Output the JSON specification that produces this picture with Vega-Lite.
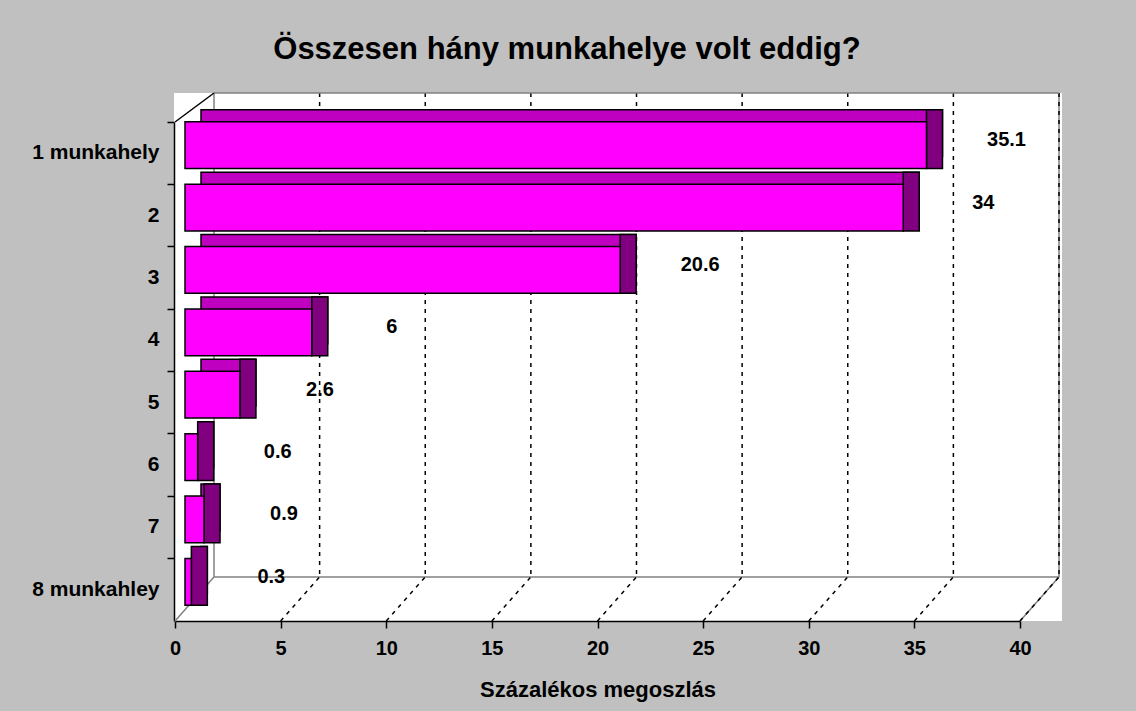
{
  "$schema": "https://vega.github.io/schema/vega-lite/v6.json",
  "autosize": {"type": "none"},
  "width": 888,
  "height": 528,
  "padding": {"left": 174, "top": 93, "right": 74, "bottom": 90},
  "background": "#c0c0c0",
  "config": {"view": {"fill": "white", "stroke": null}, "font": "Liberation Sans"},
  "title": {
    "text": "Összesen hány munkahelye volt eddig?",
    "fontSize": 31, "fontWeight": "bold", "font": "Liberation Sans", "color": "black",
    "anchor": "middle", "frame": "group", "dx": -51, "offset": 2, "baseline": "alphabetic"
  },
  "datasets": {
    "bars": [
      {"kategoria": "1 munkahely", "szazalek": 35.1},
      {"kategoria": "2", "szazalek": 34},
      {"kategoria": "3", "szazalek": 20.6},
      {"kategoria": "4", "szazalek": 6},
      {"kategoria": "5", "szazalek": 2.6},
      {"kategoria": "6", "szazalek": 0.6},
      {"kategoria": "7", "szazalek": 0.9},
      {"kategoria": "8 munkahley", "szazalek": 0.3}
    ],
    "grid": [{"ertek": 5}, {"ertek": 10}, {"ertek": 15}, {"ertek": 20}, {"ertek": 25}, {"ertek": 30}, {"ertek": 35}, {"ertek": 40}],
    "edge": [{"ertek": 0}, {"ertek": 40}],
    "one": [{"n": 1}]
  },
  "resolve": {"axis": {"x": "independent", "y": "independent"}},
  "layer": [
    {
      "data": {"name": "edge"},
      "mark": {"type": "rule", "color": "#808080", "strokeWidth": 1.5, "xOffset": 39, "yOffset": -29, "y2Offset": -44},
      "encoding": {
        "x": {"field": "ertek", "type": "quantitative", "axis": null},
        "y": {"datum": "1 munkahely", "type": "nominal", "bandPosition": 0, "axis": null},
        "y2": {"datum": "8 munkahley", "bandPosition": 1}
      }
    },
    {
      "data": {"name": "grid"},
      "mark": {"type": "rule", "color": "black", "strokeWidth": 1.5, "strokeDash": [4, 5], "xOffset": 39, "yOffset": -29, "y2Offset": -44},
      "encoding": {
        "x": {"field": "ertek", "type": "quantitative", "axis": null},
        "y": {"datum": "1 munkahely", "type": "nominal", "bandPosition": 0, "axis": null},
        "y2": {"datum": "8 munkahley", "bandPosition": 1}
      }
    },
    {
      "data": {"name": "one"},
      "mark": {"type": "rule", "color": "#808080", "strokeWidth": 1.5, "xOffset": 39, "x2Offset": 39, "yOffset": -29},
      "encoding": {
        "x": {"datum": 0, "type": "quantitative", "axis": null},
        "x2": {"datum": 40},
        "y": {"datum": "1 munkahely", "type": "nominal", "bandPosition": 0, "axis": null}
      }
    },
    {
      "data": {"name": "one"},
      "mark": {"type": "rule", "color": "#808080", "strokeWidth": 1.5, "xOffset": 39, "x2Offset": 39, "yOffset": -44},
      "encoding": {
        "x": {"datum": 0, "type": "quantitative", "axis": null},
        "x2": {"datum": 40},
        "y": {"datum": "8 munkahley", "type": "nominal", "bandPosition": 1, "axis": null}
      }
    },
    {
      "data": {"name": "edge"},
      "mark": {"type": "rule", "color": "#808080", "strokeWidth": 1.5, "x2Offset": 39, "y2Offset": -44},
      "encoding": {
        "x": {"field": "ertek", "type": "quantitative", "axis": null},
        "x2": {"field": "ertek"},
        "y": {"datum": "8 munkahley", "type": "nominal", "bandPosition": 1, "axis": null},
        "y2": {"datum": "8 munkahley", "bandPosition": 1}
      }
    },
    {
      "data": {"name": "grid"},
      "mark": {"type": "rule", "color": "black", "strokeWidth": 1.5, "strokeDash": [4, 5], "x2Offset": 39, "y2Offset": -44},
      "encoding": {
        "x": {"field": "ertek", "type": "quantitative", "axis": null},
        "x2": {"field": "ertek"},
        "y": {"datum": "8 munkahley", "type": "nominal", "bandPosition": 1, "axis": null},
        "y2": {"datum": "8 munkahley", "bandPosition": 1}
      }
    },
    {
      "data": {"name": "one"},
      "mark": {"type": "rule", "color": "black", "strokeWidth": 1.5, "x2Offset": 39, "y2Offset": -29},
      "encoding": {
        "x": {"datum": 0, "type": "quantitative", "axis": null},
        "x2": {"datum": 0},
        "y": {"datum": "1 munkahely", "type": "nominal", "bandPosition": 0, "axis": null},
        "y2": {"datum": "1 munkahely", "bandPosition": 0}
      }
    },
    {
      "data": {"name": "bars"},
      "mark": {"type": "bar", "color": "#c000c0", "stroke": "black", "strokeWidth": 1.5, "height": {"band": 0.75}, "xOffset": 26, "x2Offset": 26, "yOffset": -20, "y2Offset": -20},
      "encoding": {
        "x": {"field": "szazalek", "type": "quantitative", "axis": null},
        "y": {"field": "kategoria", "type": "nominal", "axis": null}
      }
    },
    {
      "data": {"name": "bars"},
      "mark": {"type": "bar", "color": "#800080", "stroke": "black", "strokeWidth": 1.5, "height": {"band": 0.94}, "xOffset": 10, "x2Offset": 26, "yOffset": -14, "y2Offset": -14},
      "encoding": {
        "x": {"field": "szazalek", "type": "quantitative", "axis": null},
        "x2": {"field": "szazalek"},
        "y": {"field": "kategoria", "type": "nominal", "axis": null}
      }
    },
    {
      "data": {"name": "bars"},
      "mark": {"type": "bar", "color": "#ff00ff", "stroke": "black", "strokeWidth": 1.5, "height": {"band": 0.75}, "xOffset": 10, "x2Offset": 10, "yOffset": -8, "y2Offset": -8},
      "encoding": {
        "x": {
          "field": "szazalek", "type": "quantitative",
          "scale": {"domain": [0, 40], "range": [1, 846], "nice": false, "zero": true},
          "axis": {
            "values": [0, 5, 10, 15, 20, 25, 30, 35, 40],
            "title": "Százalékos megoszlás", "titleFontSize": 22, "titleFontWeight": "bold", "titleColor": "black", "titlePadding": 21,
            "labelFontSize": 20, "labelFontWeight": "bold", "labelColor": "black", "labelPadding": 10, "labelFlush": false,
            "tickSize": 7, "tickColor": "black", "tickWidth": 1.5,
            "domainColor": "black", "domainWidth": 1.5, "grid": false
          }
        },
        "y": {
          "field": "kategoria", "type": "nominal",
          "scale": {"domain": ["1 munkahely", "2", "3", "4", "5", "6", "7", "8 munkahley"], "range": [29, 528], "paddingInner": 0, "paddingOuter": 0},
          "axis": {
            "orient": "left", "title": null, "ticks": false, "tickSize": 0, "labelPadding": 15,
            "labelFontSize": 21, "labelFontWeight": "bold", "labelColor": "black",
            "domainColor": "black", "domainWidth": 1.5
          }
        }
      }
    },
    {
      "data": {"name": "bars"},
      "mark": {"type": "text", "dx": 90, "dy": -13, "fontSize": 20, "fontWeight": "bold", "color": "black", "align": "center", "baseline": "middle"},
      "encoding": {
        "x": {"field": "szazalek", "type": "quantitative", "axis": null},
        "y": {
          "field": "kategoria", "type": "nominal",
          "axis": {"orient": "left", "title": null, "labels": false, "domain": false, "ticks": true, "bandPosition": 0, "tickSize": 7, "tickColor": "black", "tickWidth": 1.5}
        },
        "text": {"field": "szazalek", "type": "quantitative"}
      }
    }
  ]
}
